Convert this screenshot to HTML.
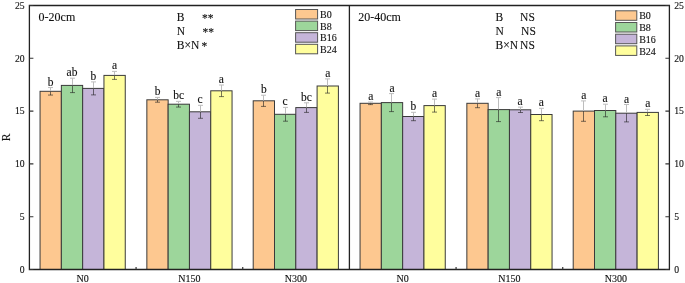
<!DOCTYPE html>
<html><head><meta charset="utf-8"><style>
html,body{margin:0;padding:0;background:#fff;}
body{width:685px;height:283px;overflow:hidden;}
svg{display:block;will-change:transform;}
text{font-family:"Liberation Serif", serif;fill:#111;stroke:#111;stroke-width:0.12px;}
</style></head><body>
<svg width="685" height="283" viewBox="0 0 685 283">
<rect width="685" height="283" fill="#fff"/>
<rect x="40.05" y="91.30" width="21.30" height="178.20" fill="#FDC890" stroke="#3a3a3a" stroke-width="1"/>
<rect x="61.35" y="85.40" width="21.30" height="184.10" fill="#9DD69B" stroke="#3a3a3a" stroke-width="1"/>
<rect x="82.65" y="88.40" width="21.30" height="181.10" fill="#C5B5D9" stroke="#3a3a3a" stroke-width="1"/>
<rect x="103.95" y="75.40" width="21.30" height="194.10" fill="#FFFE9D" stroke="#3a3a3a" stroke-width="1"/>
<rect x="146.85" y="99.80" width="21.30" height="169.70" fill="#FDC890" stroke="#3a3a3a" stroke-width="1"/>
<rect x="168.15" y="104.20" width="21.30" height="165.30" fill="#9DD69B" stroke="#3a3a3a" stroke-width="1"/>
<rect x="189.45" y="111.80" width="21.30" height="157.70" fill="#C5B5D9" stroke="#3a3a3a" stroke-width="1"/>
<rect x="210.75" y="90.80" width="21.30" height="178.70" fill="#FFFE9D" stroke="#3a3a3a" stroke-width="1"/>
<rect x="253.20" y="100.80" width="21.30" height="168.70" fill="#FDC890" stroke="#3a3a3a" stroke-width="1"/>
<rect x="274.50" y="114.30" width="21.30" height="155.20" fill="#9DD69B" stroke="#3a3a3a" stroke-width="1"/>
<rect x="295.80" y="107.60" width="21.30" height="161.90" fill="#C5B5D9" stroke="#3a3a3a" stroke-width="1"/>
<rect x="317.10" y="86.00" width="21.30" height="183.50" fill="#FFFE9D" stroke="#3a3a3a" stroke-width="1"/>
<rect x="360.05" y="103.30" width="21.30" height="166.20" fill="#FDC890" stroke="#3a3a3a" stroke-width="1"/>
<rect x="381.35" y="102.60" width="21.30" height="166.90" fill="#9DD69B" stroke="#3a3a3a" stroke-width="1"/>
<rect x="402.65" y="116.50" width="21.30" height="153.00" fill="#C5B5D9" stroke="#3a3a3a" stroke-width="1"/>
<rect x="423.95" y="105.60" width="21.30" height="163.90" fill="#FFFE9D" stroke="#3a3a3a" stroke-width="1"/>
<rect x="466.85" y="103.30" width="21.30" height="166.20" fill="#FDC890" stroke="#3a3a3a" stroke-width="1"/>
<rect x="488.15" y="109.60" width="21.30" height="159.90" fill="#9DD69B" stroke="#3a3a3a" stroke-width="1"/>
<rect x="509.45" y="109.80" width="21.30" height="159.70" fill="#C5B5D9" stroke="#3a3a3a" stroke-width="1"/>
<rect x="530.75" y="114.50" width="21.30" height="155.00" fill="#FFFE9D" stroke="#3a3a3a" stroke-width="1"/>
<rect x="573.20" y="111.10" width="21.30" height="158.40" fill="#FDC890" stroke="#3a3a3a" stroke-width="1"/>
<rect x="594.50" y="110.50" width="21.30" height="159.00" fill="#9DD69B" stroke="#3a3a3a" stroke-width="1"/>
<rect x="615.80" y="113.20" width="21.30" height="156.30" fill="#C5B5D9" stroke="#3a3a3a" stroke-width="1"/>
<rect x="637.10" y="112.40" width="21.30" height="157.10" fill="#FFFE9D" stroke="#3a3a3a" stroke-width="1"/>
<path d="M50.50 87.55V91.30M48.00 87.55H53.00" stroke="#bdbdbd" stroke-width="1" fill="none"/>
<path d="M50.50 91.30V95.05M48.00 95.05H53.00" stroke="rgba(30,30,30,0.6)" stroke-width="1" fill="none"/>
<text x="50.70" y="85.55" text-anchor="middle" font-size="11.5">b</text>
<path d="M72.50 78.20V85.40M70.00 78.20H75.00" stroke="#bdbdbd" stroke-width="1" fill="none"/>
<path d="M72.50 85.40V92.60M70.00 92.60H75.00" stroke="rgba(30,30,30,0.6)" stroke-width="1" fill="none"/>
<text x="72.00" y="76.20" text-anchor="middle" font-size="11.5">ab</text>
<path d="M93.50 81.90V88.40M91.00 81.90H96.00" stroke="#bdbdbd" stroke-width="1" fill="none"/>
<path d="M93.50 88.40V94.90M91.00 94.90H96.00" stroke="rgba(30,30,30,0.6)" stroke-width="1" fill="none"/>
<text x="93.30" y="79.90" text-anchor="middle" font-size="11.5">b</text>
<path d="M114.50 71.40V75.40M112.00 71.40H117.00" stroke="#bdbdbd" stroke-width="1" fill="none"/>
<path d="M114.50 75.40V79.40M112.00 79.40H117.00" stroke="rgba(30,30,30,0.6)" stroke-width="1" fill="none"/>
<text x="114.60" y="69.40" text-anchor="middle" font-size="11.5">a</text>
<path d="M157.50 97.40V99.80M155.00 97.40H160.00" stroke="#bdbdbd" stroke-width="1" fill="none"/>
<path d="M157.50 99.80V102.20M155.00 102.20H160.00" stroke="rgba(30,30,30,0.6)" stroke-width="1" fill="none"/>
<text x="157.50" y="95.40" text-anchor="middle" font-size="11.5">b</text>
<path d="M178.50 101.35V104.20M176.00 101.35H181.00" stroke="#bdbdbd" stroke-width="1" fill="none"/>
<path d="M178.50 104.20V107.05M176.00 107.05H181.00" stroke="rgba(30,30,30,0.6)" stroke-width="1" fill="none"/>
<text x="178.80" y="99.35" text-anchor="middle" font-size="11.5">bc</text>
<path d="M200.50 105.30V111.80M198.00 105.30H203.00" stroke="#bdbdbd" stroke-width="1" fill="none"/>
<path d="M200.50 111.80V118.30M198.00 118.30H203.00" stroke="rgba(30,30,30,0.6)" stroke-width="1" fill="none"/>
<text x="200.10" y="103.30" text-anchor="middle" font-size="11.5">c</text>
<path d="M221.50 85.00V90.80M219.00 85.00H224.00" stroke="#bdbdbd" stroke-width="1" fill="none"/>
<path d="M221.50 90.80V96.60M219.00 96.60H224.00" stroke="rgba(30,30,30,0.6)" stroke-width="1" fill="none"/>
<text x="221.40" y="83.00" text-anchor="middle" font-size="11.5">a</text>
<path d="M263.50 95.20V100.80M261.00 95.20H266.00" stroke="#bdbdbd" stroke-width="1" fill="none"/>
<path d="M263.50 100.80V106.40M261.00 106.40H266.00" stroke="rgba(30,30,30,0.6)" stroke-width="1" fill="none"/>
<text x="263.85" y="93.20" text-anchor="middle" font-size="11.5">b</text>
<path d="M285.50 107.40V114.30M283.00 107.40H288.00" stroke="#bdbdbd" stroke-width="1" fill="none"/>
<path d="M285.50 114.30V121.20M283.00 121.20H288.00" stroke="rgba(30,30,30,0.6)" stroke-width="1" fill="none"/>
<text x="285.15" y="105.40" text-anchor="middle" font-size="11.5">c</text>
<path d="M306.50 102.80V107.60M304.00 102.80H309.00" stroke="#bdbdbd" stroke-width="1" fill="none"/>
<path d="M306.50 107.60V112.40M304.00 112.40H309.00" stroke="rgba(30,30,30,0.6)" stroke-width="1" fill="none"/>
<text x="306.45" y="100.80" text-anchor="middle" font-size="11.5">bc</text>
<path d="M327.50 78.90V86.00M325.00 78.90H330.00" stroke="#bdbdbd" stroke-width="1" fill="none"/>
<path d="M327.50 86.00V93.10M325.00 93.10H330.00" stroke="rgba(30,30,30,0.6)" stroke-width="1" fill="none"/>
<text x="327.75" y="76.90" text-anchor="middle" font-size="11.5">a</text>
<path d="M370.50 102.00V103.30M368.00 102.00H373.00" stroke="#bdbdbd" stroke-width="1" fill="none"/>
<path d="M370.50 103.30V104.60M368.00 104.60H373.00" stroke="rgba(30,30,30,0.6)" stroke-width="1" fill="none"/>
<text x="370.70" y="100.00" text-anchor="middle" font-size="11.5">a</text>
<path d="M391.50 93.60V102.60M389.00 93.60H394.00" stroke="#bdbdbd" stroke-width="1" fill="none"/>
<path d="M391.50 102.60V111.60M389.00 111.60H394.00" stroke="rgba(30,30,30,0.6)" stroke-width="1" fill="none"/>
<text x="392.00" y="91.60" text-anchor="middle" font-size="11.5">a</text>
<path d="M413.50 112.30V116.50M411.00 112.30H416.00" stroke="#bdbdbd" stroke-width="1" fill="none"/>
<path d="M413.50 116.50V120.70M411.00 120.70H416.00" stroke="rgba(30,30,30,0.6)" stroke-width="1" fill="none"/>
<text x="413.30" y="110.30" text-anchor="middle" font-size="11.5">b</text>
<path d="M434.50 99.10V105.60M432.00 99.10H437.00" stroke="#bdbdbd" stroke-width="1" fill="none"/>
<path d="M434.50 105.60V112.10M432.00 112.10H437.00" stroke="rgba(30,30,30,0.6)" stroke-width="1" fill="none"/>
<text x="434.60" y="97.10" text-anchor="middle" font-size="11.5">a</text>
<path d="M477.50 98.90V103.30M475.00 98.90H480.00" stroke="#bdbdbd" stroke-width="1" fill="none"/>
<path d="M477.50 103.30V107.70M475.00 107.70H480.00" stroke="rgba(30,30,30,0.6)" stroke-width="1" fill="none"/>
<text x="477.50" y="96.90" text-anchor="middle" font-size="11.5">a</text>
<path d="M498.50 97.60V109.60M496.00 97.60H501.00" stroke="#bdbdbd" stroke-width="1" fill="none"/>
<path d="M498.50 109.60V121.60M496.00 121.60H501.00" stroke="rgba(30,30,30,0.6)" stroke-width="1" fill="none"/>
<text x="498.80" y="95.60" text-anchor="middle" font-size="11.5">a</text>
<path d="M520.50 107.10V109.80M518.00 107.10H523.00" stroke="#bdbdbd" stroke-width="1" fill="none"/>
<path d="M520.50 109.80V112.50M518.00 112.50H523.00" stroke="rgba(30,30,30,0.6)" stroke-width="1" fill="none"/>
<text x="520.10" y="105.10" text-anchor="middle" font-size="11.5">a</text>
<path d="M541.50 108.30V114.50M539.00 108.30H544.00" stroke="#bdbdbd" stroke-width="1" fill="none"/>
<path d="M541.50 114.50V120.70M539.00 120.70H544.00" stroke="rgba(30,30,30,0.6)" stroke-width="1" fill="none"/>
<text x="541.40" y="106.30" text-anchor="middle" font-size="11.5">a</text>
<path d="M583.50 100.90V111.10M581.00 100.90H586.00" stroke="#bdbdbd" stroke-width="1" fill="none"/>
<path d="M583.50 111.10V121.30M581.00 121.30H586.00" stroke="rgba(30,30,30,0.6)" stroke-width="1" fill="none"/>
<text x="583.85" y="98.90" text-anchor="middle" font-size="11.5">a</text>
<path d="M605.50 104.20V110.50M603.00 104.20H608.00" stroke="#bdbdbd" stroke-width="1" fill="none"/>
<path d="M605.50 110.50V116.80M603.00 116.80H608.00" stroke="rgba(30,30,30,0.6)" stroke-width="1" fill="none"/>
<text x="605.15" y="102.20" text-anchor="middle" font-size="11.5">a</text>
<path d="M626.50 104.50V113.20M624.00 104.50H629.00" stroke="#bdbdbd" stroke-width="1" fill="none"/>
<path d="M626.50 113.20V121.90M624.00 121.90H629.00" stroke="rgba(30,30,30,0.6)" stroke-width="1" fill="none"/>
<text x="626.45" y="102.50" text-anchor="middle" font-size="11.5">a</text>
<path d="M647.50 109.30V112.40M645.00 109.30H650.00" stroke="#bdbdbd" stroke-width="1" fill="none"/>
<path d="M647.50 112.40V115.50M645.00 115.50H650.00" stroke="rgba(30,30,30,0.6)" stroke-width="1" fill="none"/>
<text x="647.75" y="107.30" text-anchor="middle" font-size="11.5">a</text>
<path d="M29.4 5.5V269.5H669.4V5.5Z M349.4 5.5V269.5" stroke="#222" stroke-width="1.3" fill="none"/>
<path d="M29.4 269.50h4M669.4 269.50h-4" stroke="#333" stroke-width="1.1"/>
<text x="24.70" y="272.70" text-anchor="end" font-size="9.7">0</text>
<text x="674.20" y="272.70" text-anchor="start" font-size="9.7">0</text>
<path d="M29.4 216.70h4M669.4 216.70h-4" stroke="#333" stroke-width="1.1"/>
<text x="24.70" y="219.90" text-anchor="end" font-size="9.7">5</text>
<text x="674.20" y="219.90" text-anchor="start" font-size="9.7">5</text>
<path d="M29.4 163.90h4M669.4 163.90h-4" stroke="#333" stroke-width="1.1"/>
<text x="24.70" y="167.10" text-anchor="end" font-size="9.7">10</text>
<text x="674.20" y="167.10" text-anchor="start" font-size="9.7">10</text>
<path d="M29.4 111.10h4M669.4 111.10h-4" stroke="#333" stroke-width="1.1"/>
<text x="24.70" y="114.30" text-anchor="end" font-size="9.7">15</text>
<text x="674.20" y="114.30" text-anchor="start" font-size="9.7">15</text>
<path d="M29.4 58.30h4M669.4 58.30h-4" stroke="#333" stroke-width="1.1"/>
<text x="24.70" y="61.50" text-anchor="end" font-size="9.7">20</text>
<text x="674.20" y="61.50" text-anchor="start" font-size="9.7">20</text>
<path d="M29.4 5.50h4M669.4 5.50h-4" stroke="#333" stroke-width="1.1"/>
<text x="24.70" y="8.70" text-anchor="end" font-size="9.7">25</text>
<text x="674.20" y="8.70" text-anchor="start" font-size="9.7">25</text>
<path d="M136.07 269.5v-2.5" stroke="#333" stroke-width="1.2"/>
<path d="M242.73 269.5v-2.5" stroke="#333" stroke-width="1.2"/>
<path d="M456.07 269.5v-2.5" stroke="#333" stroke-width="1.2"/>
<path d="M562.73 269.5v-2.5" stroke="#333" stroke-width="1.2"/>
<text x="82.65" y="281.5" text-anchor="middle" font-size="10">N0</text>
<text x="189.45" y="281.5" text-anchor="middle" font-size="10">N150</text>
<text x="295.80" y="281.5" text-anchor="middle" font-size="10">N300</text>
<text x="402.65" y="281.5" text-anchor="middle" font-size="10">N0</text>
<text x="509.45" y="281.5" text-anchor="middle" font-size="10">N150</text>
<text x="615.80" y="281.5" text-anchor="middle" font-size="10">N300</text>
<text transform="translate(9.6 137.5) rotate(-90)" text-anchor="middle" font-size="11.5">R</text>
<text x="38.6" y="21" font-size="12">0-20cm</text>
<text x="358.3" y="21" font-size="12">20-40cm</text>
<text x="176.80" y="21.20" font-size="11.5">B</text>
<text x="202.00" y="22.00" font-size="11.5">**</text>
<text x="176.80" y="35.00" font-size="11.5">N</text>
<text x="202.50" y="35.80" font-size="11.5">**</text>
<text x="176.80" y="48.80" font-size="11.5">B×N</text>
<text x="201.60" y="49.60" font-size="11.5">*</text>
<text x="495.50" y="21.20" font-size="11.5">B</text>
<text x="520.10" y="21.20" font-size="11.5">NS</text>
<text x="495.50" y="35.00" font-size="11.5">N</text>
<text x="521.10" y="35.00" font-size="11.5">NS</text>
<text x="495.50" y="48.80" font-size="11.5">B×N</text>
<text x="520.10" y="48.80" font-size="11.5">NS</text>
<rect x="295.60" y="9.50" width="22" height="9.5" fill="#FDC890" stroke="#555" stroke-width="1"/>
<text x="320.10" y="18.10" font-size="10">B0</text>
<rect x="295.60" y="21.10" width="22" height="9.5" fill="#9DD69B" stroke="#555" stroke-width="1"/>
<text x="320.10" y="29.70" font-size="10">B8</text>
<rect x="295.60" y="32.70" width="22" height="9.5" fill="#C5B5D9" stroke="#555" stroke-width="1"/>
<text x="320.10" y="41.30" font-size="10">B16</text>
<rect x="295.60" y="44.30" width="22" height="9.5" fill="#FFFE9D" stroke="#555" stroke-width="1"/>
<text x="320.10" y="52.90" font-size="10">B24</text>
<rect x="615.60" y="10.80" width="21.2" height="9.5" fill="#FDC890" stroke="#555" stroke-width="1"/>
<text x="639.20" y="19.40" font-size="10">B0</text>
<rect x="615.60" y="22.50" width="21.2" height="9.5" fill="#9DD69B" stroke="#555" stroke-width="1"/>
<text x="639.20" y="31.10" font-size="10">B8</text>
<rect x="615.60" y="34.20" width="21.2" height="9.5" fill="#C5B5D9" stroke="#555" stroke-width="1"/>
<text x="639.20" y="42.80" font-size="10">B16</text>
<rect x="615.60" y="45.90" width="21.2" height="9.5" fill="#FFFE9D" stroke="#555" stroke-width="1"/>
<text x="639.20" y="54.50" font-size="10">B24</text>
</svg>
</body></html>
